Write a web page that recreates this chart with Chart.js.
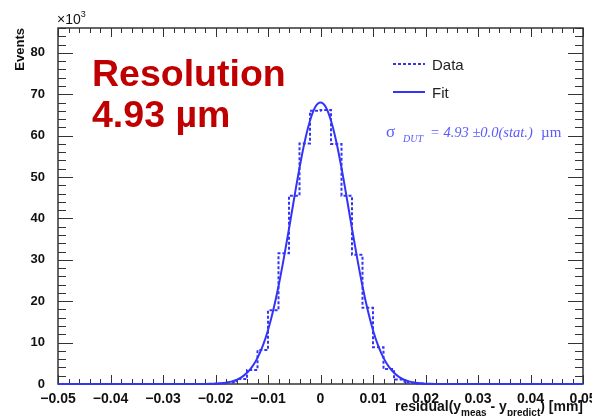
<!DOCTYPE html>
<html>
<head>
<meta charset="utf-8">
<script src="https://cdn.jsdelivr.net/npm/chart.js@4/dist/chart.umd.min.js"></script>
<style>
  body { margin: 0; background: #fff; }
  canvas { display: block; }
</style>
</head>
<body>
<canvas id="resChart" width="592" height="416"></canvas>
<script>
// histogram bins (centres, mm) and counts (x10^3)
var binCenters = [-0.049, -0.047, -0.045, -0.043, -0.041, -0.039, -0.037, -0.035, -0.033, -0.031,
    -0.029, -0.027, -0.025, -0.023, -0.021, -0.019, -0.017, -0.015, -0.013, -0.011,
    -0.009, -0.007, -0.005, -0.003, -0.001, 0.001, 0.003, 0.005, 0.007, 0.009,
    0.011, 0.013, 0.015, 0.017, 0.019, 0.021, 0.023, 0.025, 0.027, 0.029,
    0.031, 0.033, 0.035, 0.037, 0.039, 0.041, 0.043, 0.045, 0.047, 0.049];
var dataCounts = [0, 0, 0, 0, 0, 0, 0, 0, 0, 0,
    0, 0, 0, 0, 0.02, 0.1, 0.35, 1.2, 3.4, 8.2,
    17.8, 31.6, 45.5, 58.1, 66.0, 66.2, 58.0, 45.5, 31.2, 18.4,
    8.9, 3.6, 1.1, 0.3, 0.1, 0.02, 0, 0, 0, 0,
    0, 0, 0, 0, 0, 0, 0, 0, 0, 0];

// gaussian fit curve, sampled
var fitX = [-0.05, -0.025, -0.024, -0.023, -0.022, -0.021, -0.02, -0.019, -0.018, -0.017, -0.016,
    -0.015, -0.014, -0.013, -0.012, -0.011, -0.01, -0.009, -0.008, -0.007, -0.006,
    -0.005, -0.004, -0.003, -0.002, -0.001, 0, 0.001, 0.002, 0.003, 0.004,
    0.005, 0.006, 0.007, 0.008, 0.009, 0.01, 0.011, 0.012, 0.013, 0.014,
    0.015, 0.016, 0.017, 0.018, 0.019, 0.02, 0.021, 0.022, 0.023, 0.024, 0.025, 0.05];
var fitY = [0, 0, 0, 0.01, 0.02, 0.05, 0.09, 0.17, 0.32, 0.57, 0.99,
    1.65, 2.7, 4.2, 6.3, 9.2, 13.0, 17.8, 23.6, 30.3, 37.5,
    45.0, 52.2, 58.6, 63.6, 66.9, 68.0, 66.9, 63.6, 58.6, 52.2,
    45.0, 37.5, 30.3, 23.6, 17.8, 13.0, 9.2, 6.3, 4.2, 2.7,
    1.65, 0.99, 0.57, 0.32, 0.17, 0.09, 0.05, 0.02, 0.01, 0, 0, 0];

var xTickValues = [-0.05, -0.04, -0.03, -0.02, -0.01, 0, 0.01, 0.02, 0.03, 0.04, 0.05];
var xTickLabels = ["\u22120.05", "\u22120.04", "\u22120.03", "\u22120.02", "\u22120.01", "0", "0.01", "0.02", "0.03", "0.04", "0.05"];
var yTickValues = [0, 10, 20, 30, 40, 50, 60, 70, 80];
var yTickLabels = ["0", "10", "20", "30", "40", "50", "60", "70", "80"];

var blue = "#3434f8";
var sans = '"Liberation Sans", Arial, sans-serif';
var serif = '"Liberation Serif", "Times New Roman", serif';

// ROOT style frame with inward ticks on all four sides, plus the text annotations
var rootStyle = {
    id: "rootStyle",
    beforeDatasetsDraw: function(chart) {
        var c = chart.ctx, a = chart.chartArea;
        var xs = chart.scales.x, ys = chart.scales.y;
        c.save();
        c.strokeStyle = "#333";
        c.lineWidth = 1;
        c.beginPath();
        for (var i = -25; i <= 25; i++) {
            var px = Math.round(xs.getPixelForValue(i * 0.002)) + 0.5;
            var len = (i % 5 === 0) ? 9 : 5;
            c.moveTo(px, a.bottom); c.lineTo(px, a.bottom - len);
            c.moveTo(px, a.top); c.lineTo(px, a.top + len);
        }
        for (var j = 0; j <= 43; j++) {
            var py = Math.round(ys.getPixelForValue(j * 2)) + 0.5;
            var ylen = (j % 5 === 0) ? 15 : 8;
            c.moveTo(a.left, py); c.lineTo(a.left + ylen, py);
            c.moveTo(a.right, py); c.lineTo(a.right - ylen, py);
        }
        c.stroke();
        c.lineWidth = 1.5;
        c.strokeRect(a.left, a.top, a.right - a.left, a.bottom - a.top);
        c.restore();
    },
    afterDraw: function(chart) {
        var c = chart.ctx, a = chart.chartArea;
        c.save();
        c.textBaseline = "alphabetic";

        // big red annotation
        c.fillStyle = "#c00000";
        c.font = "bold 37.5px " + sans;
        c.fillText("Resolution", 92, 86);
        c.fillText("4.93 \u00b5m", 92, 127);

        // legend
        c.strokeStyle = blue;
        c.lineWidth = 2;
        c.setLineDash([3, 2]);
        c.beginPath(); c.moveTo(393, 64); c.lineTo(425, 64); c.stroke();
        c.setLineDash([]);
        c.beginPath(); c.moveTo(393, 92); c.lineTo(425, 92); c.stroke();
        c.fillStyle = "#222";
        c.font = "15px " + sans;
        c.fillText("Data", 432, 70);
        c.fillText("Fit", 432, 98);

        // sigma text
        c.fillStyle = "#5a5aff";
        c.font = "17px " + serif;
        c.fillText("\u03c3", 386, 137);
        c.font = "italic 10px " + serif;
        c.fillText("DUT", 403, 142);
        c.font = "italic 14.5px " + serif;
        c.fillText("= 4.93 \u00b10.0(stat.)", 430, 137);
        c.font = "15px " + serif;
        c.fillText("\u00b5m", 541, 137);

        // axis titles
        c.fillStyle = "#111";
        c.font = "14px " + sans;
        c.fillText("\u00d710", 57, 24);
        var w10 = c.measureText("\u00d710").width;
        c.font = "9px " + sans;
        c.fillText("3", 57 + w10, 17);

        c.save();
        c.translate(24, a.top);
        c.rotate(-Math.PI / 2);
        c.textAlign = "right";
        c.font = "bold 13px " + sans;
        c.fillText("Events", 0, 0);
        c.restore();

        var parts = [
            ["residual(y", 14, 0], ["meas", 10, 5], [" - y", 14, 0], ["predict", 10, 5], [") [mm]", 14, 0]
        ];
        var total = 0;
        parts.forEach(function(p) { c.font = "bold " + p[1] + "px " + sans; total += c.measureText(p[0]).width; });
        var tx = a.right - total;
        parts.forEach(function(p) {
            c.font = "bold " + p[1] + "px " + sans;
            c.fillText(p[0], tx, 411 + p[2]);
            tx += c.measureText(p[0]).width;
        });
        c.restore();
    }
};

new Chart(document.getElementById("resChart"), {
    type: "line",
    data: {
        datasets: [{
            label: "Data",
            data: binCenters.map(function(x, i) { return { x: x, y: dataCounts[i] }; }),
            stepped: "middle",
            borderColor: blue,
            borderWidth: 2,
            borderDash: [3, 2],
            pointRadius: 0,
            fill: false,
            clip: 3
        }, {
            label: "Fit",
            data: fitX.map(function(x, i) { return { x: x, y: fitY[i] }; }),
            borderColor: blue,
            borderWidth: 2,
            cubicInterpolationMode: "monotone",
            pointRadius: 0,
            fill: false,
            clip: 3
        }]
    },
    options: {
        responsive: false,
        devicePixelRatio: 1,
        animation: false,
        layout: { padding: { top: 28, right: 9, left: 0, bottom: 0 } },
        plugins: { legend: { display: false }, tooltip: { enabled: false } },
        scales: {
            x: {
                type: "linear",
                min: -0.05,
                max: 0.05,
                grid: { display: false },
                border: { display: false },
                afterBuildTicks: function(s) { s.ticks = xTickValues.map(function(v) { return { value: v }; }); },
                afterFit: function(s) { s.height = 32; s.paddingLeft = 0; s.paddingRight = 0; },
                ticks: {
                    autoSkip: false,
                    maxRotation: 0,
                    padding: -1,
                    color: "#111",
                    font: { family: sans, size: 14, weight: "bold" },
                    callback: function(v, i) { return xTickLabels[i]; }
                }
            },
            y: {
                min: 0,
                max: 86,
                grid: { display: false },
                border: { display: false },
                afterBuildTicks: function(s) { s.ticks = yTickValues.map(function(v) { return { value: v }; }); },
                afterFit: function(s) { s.width = 58; s.paddingTop = 0; s.paddingBottom = 0; },
                ticks: {
                    padding: 5,
                    color: "#111",
                    font: { family: sans, size: 13, weight: "bold" },
                    callback: function(v, i) { return yTickLabels[i]; }
                }
            }
        }
    },
    plugins: [rootStyle]
});
</script>
</body>
</html>
